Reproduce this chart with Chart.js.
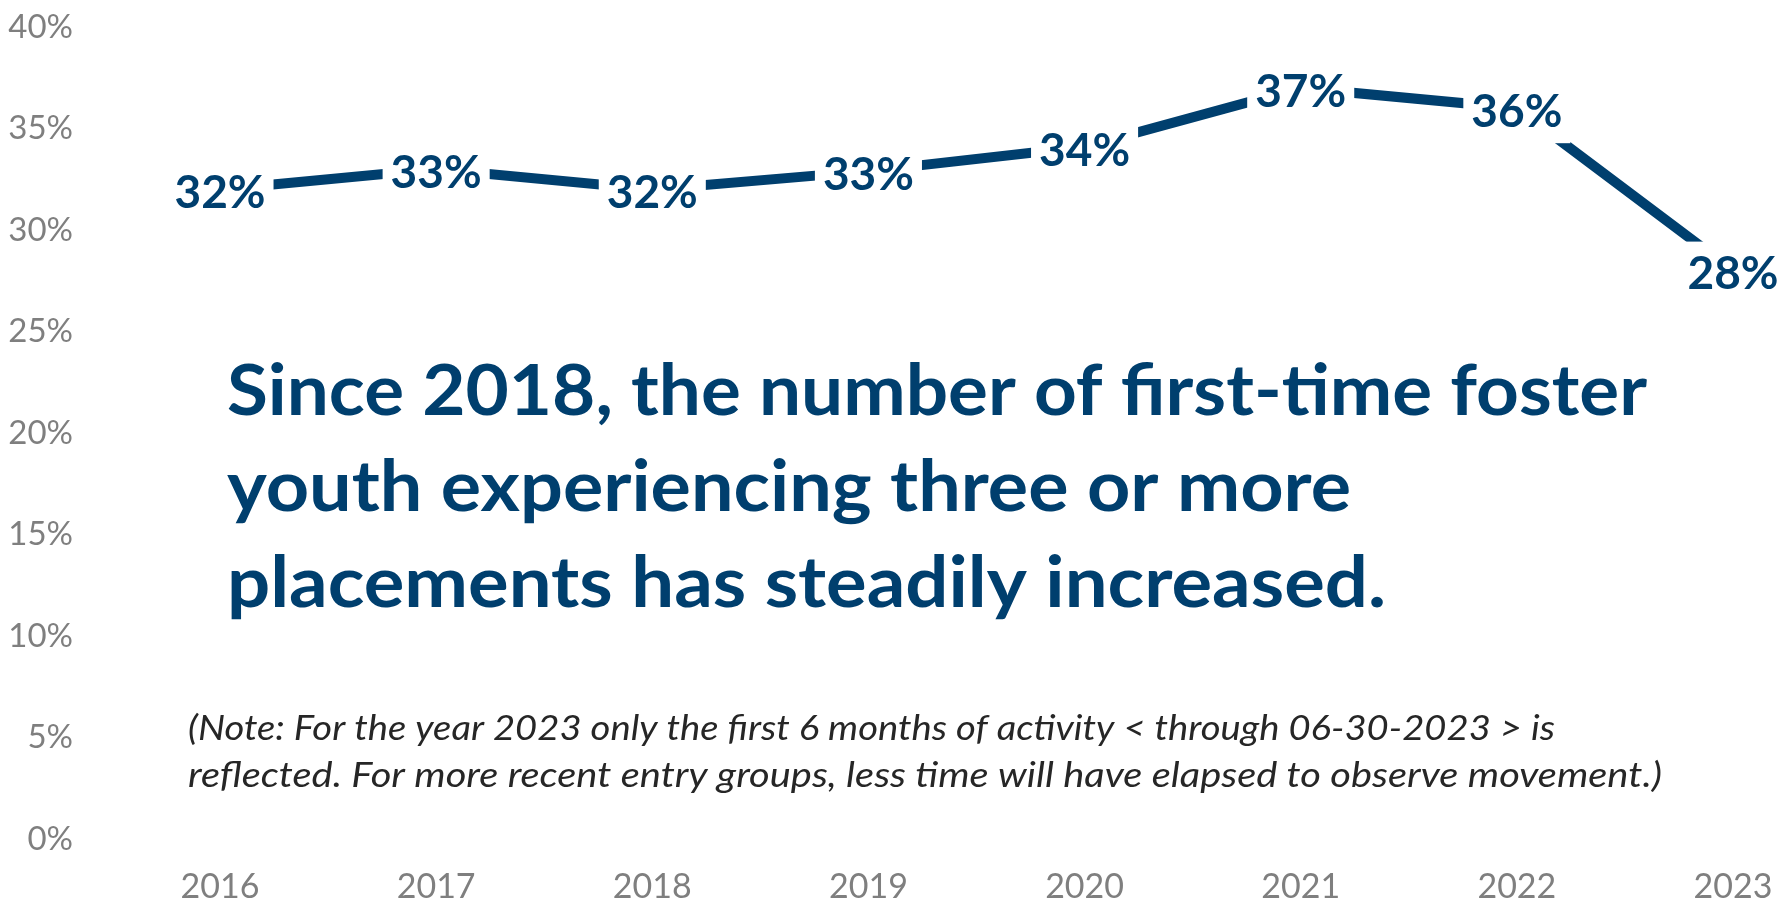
<!DOCTYPE html>
<html>
<head>
<meta charset="utf-8">
<script src="https://cdn.jsdelivr.net/npm/chart.js@4.4.1/dist/chart.umd.min.js"></script>
<style>
    html, body { margin: 0; padding: 0; background: #fff; }
    #wrap { width: 1785px; height: 904px; }
</style>
</head>
<body>
<div id="wrap"><canvas id="chart-placements" width="1785" height="904"></canvas></div>
<script>
// Datos del grafico
const years = ['2016', '2017', '2018', '2019', '2020', '2021', '2022', '2023'];
const pctThreePlus = [32.0, 33.0, 32.0, 32.9, 34.1, 37.0, 36.0, 28.0];
const yTicks = [0, 5, 10, 15, 20, 25, 30, 35, 40];

const headline = [
    'Since 2018, the number of first-time foster',
    'youth experiencing three or more',
    'placements has steadily increased.'
];
const note = [
    '(Note: For the year 2023 only the first 6 months of activity < through 06-30-2023 > is',
    'reflected. For more recent entry groups, less time will have elapsed to observe movement.)'
];

const BLUE = '#003f6e';
const GREY = '#7f7f7f';

// Dibuja una linea de texto ajustada a un ancho dado (imita Calibri)
function fitText(ctx, txt, x, y, width) {
    const w = ctx.measureText(txt).width;
    ctx.save();
    ctx.translate(x, y);
    ctx.scale(width / w, 1);
    ctx.fillText(txt, 0, 0);
    ctx.restore();
}

// Etiquetas de valor con fondo blanco (cortan la linea como en Excel)
const valueLabels = {
    id: 'valueLabels',
    afterDatasetsDraw(chart) {
        const ctx = chart.ctx;
        const meta = chart.getDatasetMeta(0);
        ctx.save();
        ctx.font = 'bold 46px Lato';
        ctx.textAlign = 'center';
        ctx.textBaseline = 'middle';
        meta.data.forEach((pt, i) => {
            const txt = Math.round(pctThreePlus[i]) + '%';
            const w = ctx.measureText(txt).width;
            ctx.fillStyle = '#fff';
            ctx.fillRect(pt.x - w / 2 - 8, pt.y - 29, w + 16, 64);
            ctx.fillStyle = BLUE;
            ctx.fillText(txt, pt.x, pt.y + 4);
        });
        ctx.restore();
    }
};

// Textos del cuadro
const annotations = {
    id: 'annotations',
    afterDraw(chart) {
        const ctx = chart.ctx;
        ctx.save();
        ctx.textAlign = 'left';
        ctx.textBaseline = 'alphabetic';

        ctx.fillStyle = BLUE;
        ctx.font = 'bold 70px Lato';
        const headW = [1420, 1124, 1159];
        const headY = [415, 511, 607];
        headline.forEach((line, i) => fitText(ctx, line, 227, headY[i], headW[i]));

        ctx.fillStyle = '#262626';
        ctx.font = 'italic 35px Lato';
        const noteW = [1367, 1474];
        const noteY = [740, 787];
        note.forEach((line, i) => fitText(ctx, line, 188, noteY[i], noteW[i]));
        ctx.restore();
    }
};

new Chart(document.getElementById('chart-placements'), {
    type: 'line',
    data: {
        labels: years,
        datasets: [{
            data: pctThreePlus,
            borderColor: BLUE,
            borderWidth: 10,
            pointRadius: 0,
            tension: 0,
            fill: false
        }]
    },
    options: {
        responsive: false,
        animation: false,
        layout: {
            padding: { top: 27, right: 52, left: 0, bottom: 0 }
        },
        plugins: {
            legend: { display: false },
            tooltip: { enabled: false }
        },
        scales: {
            x: {
                offset: false,
                grid: { display: false, drawTicks: false },
                border: { display: false },
                ticks: {
                    color: GREY,
                    font: { family: 'Lato', size: 34 },
                    padding: 28,
                    maxRotation: 0
                },
                afterFit(scale) {
                    scale.height = 65;
                    scale.paddingLeft = 0;
                    scale.paddingRight = 0;
                }
            },
            y: {
                min: 0,
                max: 40,
                grid: { display: false, drawTicks: false },
                border: { display: false },
                afterBuildTicks(scale) {
                    scale.ticks = yTicks.map(v => ({ value: v }));
                },
                ticks: {
                    color: GREY,
                    font: { family: 'Lato', size: 33 },
                    padding: 147,
                    callback: v => v + '%'
                },
                afterFit(scale) {
                    scale.width = 220;
                    scale.paddingTop = 0;
                    scale.paddingBottom = 0;
                }
            }
        }
    },
    plugins: [valueLabels, annotations]
});
</script>
</body>
</html>
